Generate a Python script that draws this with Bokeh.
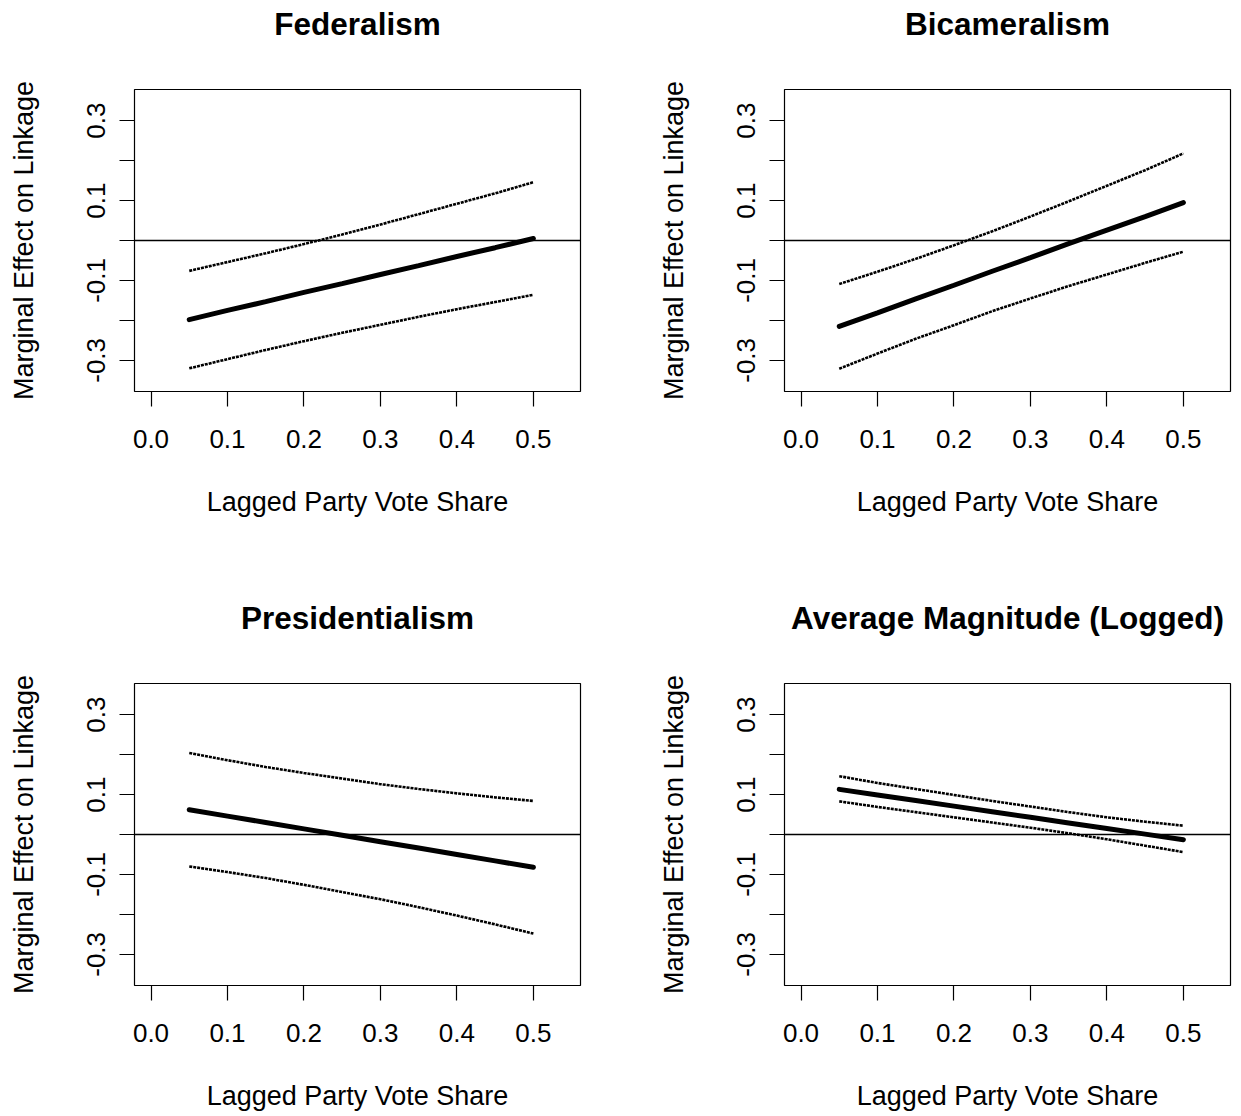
from bokeh.plotting import figure
from bokeh.layouts import gridplot
from bokeh.models import Range1d, FixedTicker, Span, PrintfTickFormatter, LinearAxis
from bokeh.embed import file_html
from bokeh.resources import INLINE

# ---- data ----
vote_share = [0.05, 0.10, 0.15, 0.20, 0.25, 0.30, 0.35, 0.40, 0.45, 0.50]

titles = ["Federalism", "Bicameralism", "Presidentialism", "Average Magnitude (Logged)"]

fed_mean = [-0.198, -0.175, -0.153, -0.130, -0.108, -0.085, -0.063, -0.040, -0.018, 0.005]
fed_upper = [-0.076, -0.054, -0.032, -0.009, 0.015, 0.040, 0.066, 0.092, 0.118, 0.146]
fed_lower = [-0.320, -0.297, -0.274, -0.252, -0.231, -0.211, -0.191, -0.172, -0.154, -0.136]

bic_mean = [-0.215, -0.181, -0.146, -0.112, -0.077, -0.043, -0.008, 0.026, 0.060, 0.095]
bic_upper = [-0.109, -0.078, -0.046, -0.012, 0.023, 0.060, 0.098, 0.137, 0.176, 0.218]
bic_lower = [-0.321, -0.283, -0.246, -0.212, -0.177, -0.145, -0.114, -0.085, -0.056, -0.028]

pres_mean = [0.062, 0.046, 0.030, 0.014, -0.002, -0.018, -0.034, -0.050, -0.066, -0.082]
pres_upper = [0.204, 0.186, 0.169, 0.154, 0.140, 0.126, 0.114, 0.103, 0.093, 0.084]
pres_lower = [-0.080, -0.094, -0.109, -0.126, -0.144, -0.162, -0.182, -0.203, -0.225, -0.248]

mag_mean = [0.113, 0.099, 0.085, 0.071, 0.057, 0.043, 0.029, 0.015, 0.001, -0.013]
mag_upper = [0.146, 0.129, 0.114, 0.099, 0.084, 0.070, 0.056, 0.043, 0.032, 0.022]
mag_lower = [0.083, 0.069, 0.056, 0.043, 0.030, 0.017, 0.003, -0.012, -0.028, -0.044]

x_ticks = [0.0, 0.1, 0.2, 0.3, 0.4, 0.5]
y_labeled_ticks = [-0.3, -0.1, 0.1, 0.3]
y_unlabeled_ticks = [-0.2, 0.0, 0.2]

x_label = "Lagged Party Vote Share"
y_label = "Marginal Effect on Linkage"

FONT = "Liberation Sans"

X_MIN, X_MAX = -0.0216, 0.5616
Y_MIN, Y_MAX = -0.378, 0.378


def make_panel(title, mean, upper, lower, width, height, b_left, b_right, b_top, b_bottom):
    p = figure(width=width, height=height, output_backend="svg", toolbar_location=None,
               x_range=Range1d(X_MIN, X_MAX), y_range=Range1d(Y_MIN, Y_MAX),
               min_border_left=b_left, min_border_right=b_right,
               min_border_top=b_top, min_border_bottom=b_bottom)

    p.xgrid.visible = False
    p.ygrid.visible = False
    p.outline_line_color = "black"
    p.outline_line_width = 1.2
    p.background_fill_color = "white"
    p.border_fill_color = "white"

    xax = p.below[0]
    yax = p.left[0]

    for ax in (xax, yax):
        ax.axis_line_color = None
        ax.major_tick_in = 0
        ax.major_tick_out = 15
        ax.minor_tick_in = 0
        ax.minor_tick_out = 15
        ax.major_tick_line_color = "black"
        ax.minor_tick_line_color = "black"
        ax.major_tick_line_width = 1.2
        ax.minor_tick_line_width = 1.2
        ax.major_label_text_font = FONT
        ax.major_label_text_font_size = "26px"
        ax.major_label_text_color = "black"
        ax.axis_label_text_font = FONT
        ax.axis_label_text_font_size = "27px"
        ax.axis_label_text_font_style = "normal"
        ax.axis_label_text_color = "black"

    xax.ticker = FixedTicker(ticks=x_ticks)
    xax.formatter = PrintfTickFormatter(format="%.1f")
    xax.minor_tick_line_color = None
    xax.major_label_standoff = 23
    xax.axis_label = x_label
    xax.axis_label_standoff = 36

    yax.ticker = FixedTicker(ticks=y_labeled_ticks, minor_ticks=y_unlabeled_ticks)
    yax.formatter = PrintfTickFormatter(format="%.1f")
    yax.major_label_orientation = "vertical"
    yax.major_label_standoff = 14
    yax.axis_label = y_label
    yax.axis_label_standoff = 46

    # main title: an empty axis above the frame whose label is the title
    top_axis = LinearAxis(ticker=FixedTicker(ticks=[]), axis_line_color=None,
                          major_tick_line_color=None, minor_tick_line_color=None,
                          major_tick_in=0, major_tick_out=0,
                          minor_tick_in=0, minor_tick_out=0,
                          major_label_text_font_size="0px",
                          axis_label=title, axis_label_text_font=FONT,
                          axis_label_text_font_size="31.5px",
                          axis_label_text_font_style="bold",
                          axis_label_text_color="black",
                          axis_label_standoff=48)
    p.add_layout(top_axis, "above")

    p.add_layout(Span(location=0, dimension="width", line_color="black", line_width=1.3))

    p.line(vote_share, upper, line_color="black", line_width=2.6, line_dash="3 1")
    p.line(vote_share, lower, line_color="black", line_width=2.6, line_dash="3 1")
    p.line(vote_share, mean, line_color="black", line_width=5, line_cap="round")
    return p


p1 = make_panel(titles[0], fed_mean, fed_upper, fed_lower, 650, 594, 134, 70, 89, 203)
p2 = make_panel(titles[1], bic_mean, bic_upper, bic_lower, 591, 594, 134, 11, 89, 203)
p3 = make_panel(titles[2], pres_mean, pres_upper, pres_lower, 650, 522, 134, 70, 89, 131)
p4 = make_panel(titles[3], mag_mean, mag_upper, mag_lower, 591, 522, 134, 11, 89, 131)

grid = gridplot([[p1, p2], [p3, p4]], toolbar_location=None)

open("out.html", "w").write(file_html(grid, INLINE))
